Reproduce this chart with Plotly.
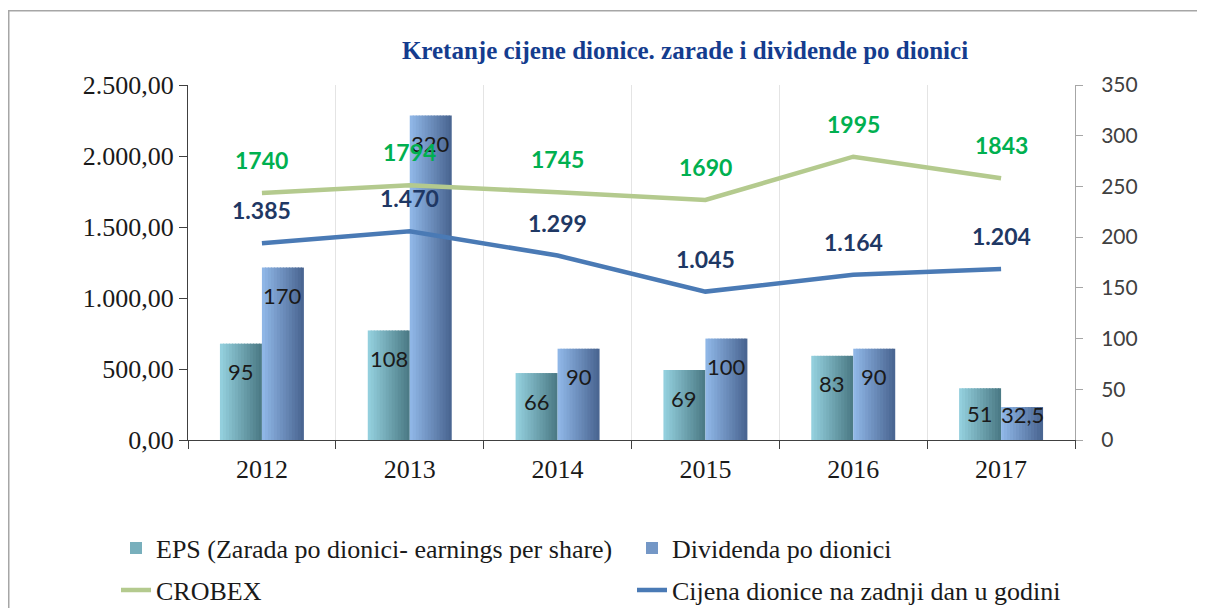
import plotly.graph_objects as go

# ---------------- data ----------------
years = ["2012", "2013", "2014", "2015", "2016", "2017"]
eps = [95, 108, 66, 69, 83, 51]
dividenda = [170, 320, 90, 100, 90, 32.5]
crobex = [1740, 1794, 1745, 1690, 1995, 1843]
cijena = [1385, 1470, 1299, 1045, 1164, 1204]

eps_labels = ["95", "108", "66", "69", "83", "51"]
div_labels = ["170", "320", "90", "100", "90", "32,5"]
crobex_labels = ["1740", "1794", "1745", "1690", "1995", "1843"]
cijena_labels = ["1.385", "1.470", "1.299", "1.045", "1.164", "1.204"]

left_ticks = [0, 500, 1000, 1500, 2000, 2500]
right_ticks = [0, 50, 100, 150, 200, 250, 300, 350]

title_text = "Kretanje cijene dionice. zarade i dividende po dionici"
name_eps = "EPS (Zarada po dionici- earnings per share)"
name_div = "Dividenda po dionici"
name_crobex = "CROBEX"
name_cijena = "Cijena dionice na zadnji dan u godini"

# ---------------- geometry / style ----------------
FIG_W, FIG_H = 1189, 600
ML, MR, MT, MB = 180, 122, 77, 168
PW = FIG_W - ML - MR
PH = FIG_H - MT - MB

BAR_W = 0.284      # width of one bar in category units
N_STRIPS = 14      # strips used to imitate the horizontal gradient


def hex2rgb(h):
    h = h.lstrip("#")
    return tuple(int(h[i:i + 2], 16) for i in (0, 2, 4))


def lerp(c1, c2, t):
    a, b = hex2rgb(c1), hex2rgb(c2)
    return "rgb(%d,%d,%d)" % tuple(round(a[i] + (b[i] - a[i]) * t) for i in range(3))


def px_x(px):
    """figure pixel x -> paper fraction"""
    return (px - ML) / PW


def px_y(py):
    """figure pixel y (from top) -> paper fraction"""
    return (FIG_H - MB - py) / PH


fig = go.Figure()


def add_gradient_bars(values, name, start, c_left, c_right):
    step = BAR_W / N_STRIPS
    for k in range(N_STRIPS):
        t = k / (N_STRIPS - 1)
        w = step * 1.35 if k < N_STRIPS - 1 else step
        fig.add_trace(go.Bar(
            x=years, y=values, name=name,
            offset=start + k * step, width=w,
            marker=dict(color=lerp(c_left, c_right, t), line=dict(width=0)),
            showlegend=(k == N_STRIPS // 2 - 2),
            legend="legend", yaxis="y", hoverinfo="skip" if k != N_STRIPS // 2 else None,
        ))


add_gradient_bars(eps, name_eps, -BAR_W, "#93CFDD", "#4C7B86")
add_gradient_bars(dividenda, name_div, 0.0, "#8FB6E6", "#4A6692")

fig.add_trace(go.Scatter(x=years, y=crobex, mode="lines", name=name_crobex,
                         line=dict(color="#B4CA8E", width=4.5),
                         yaxis="y2", legend="legend2"))
fig.add_trace(go.Scatter(x=years, y=cijena, mode="lines", name=name_cijena,
                         line=dict(color="#4A7AB5", width=4.5),
                         yaxis="y2", legend="legend2"))

annotations = []
px_per_unit_right = PH / 350.0
for i in range(len(years)):
    for val, lab, off in ((eps[i], eps_labels[i], -BAR_W / 2),
                          (dividenda[i], div_labels[i], BAR_W / 2)):
        shift = -min(28, val * px_per_unit_right - 26)
        annotations.append(dict(x=i + off, y=val, xref="x", yref="y", text=lab,
                                showarrow=False, yshift=shift,
                                font=dict(family="Lato", size=22, color="#1A1A1A")))
    annotations.append(dict(x=i, y=crobex[i], xref="x", yref="y2",
                            text="<b>%s</b>" % crobex_labels[i], showarrow=False, yshift=33,
                            font=dict(family="Lato", size=23, color="#00B050")))
    annotations.append(dict(x=i, y=cijena[i], xref="x", yref="y2",
                            text="<b>%s</b>" % cijena_labels[i], showarrow=False, yshift=33,
                            font=dict(family="Lato", size=23, color="#1F3864")))

# outer chart frame: a bordered empty box whose right/bottom edges fall outside the page
annotations.append(dict(xref="paper", yref="paper", x=px_x(0), y=px_y(2),
                        xanchor="left", yanchor="top", text=" ", showarrow=False,
                        width=1400, height=800, bordercolor="#A6A6A6", borderwidth=1.5,
                        borderpad=0, bgcolor="rgba(0,0,0,0)"))

legend_font = dict(family="Liberation Serif", size=26, color="#1A1A1A")
legend_x = px_x(108)

fig.update_layout(
    width=FIG_W, height=FIG_H,
    margin=dict(l=ML, r=MR, t=MT, b=MB, pad=0, autoexpand=False),
    paper_bgcolor="white", plot_bgcolor="white",
    separators=",.",
    barmode="overlay",
    title=dict(text="<b>%s</b>" % title_text, x=677 / FIG_W, xanchor="center",
               y=1 - 42 / FIG_H, yanchor="middle",
               font=dict(family="Liberation Serif", size=25, color="#143C8E")),
    xaxis=dict(type="category", showline=True, linecolor="#404040", linewidth=1,
               ticks="outside", tickson="boundaries", ticklen=8, tickcolor="#404040",
               showgrid=True, gridcolor="#E4E4E4", gridwidth=1,
               tickfont=dict(family="Liberation Serif", size=26, color="#1A1A1A"),
               ticklabelstandoff=6, range=[-0.5, 5.5]),
    yaxis=dict(side="right", range=[0, 350], tickvals=right_ticks,
               showline=True, linecolor="#A6A6A6", linewidth=1,
               ticks="outside", ticklen=7, tickcolor="#A6A6A6",
               tickfont=dict(family="Lato", size=21, color="#404040"),
               showgrid=False, zeroline=False, ticklabelstandoff=14),
    yaxis2=dict(overlaying="y", side="left", range=[0, 2500], tickvals=left_ticks,
                tickformat=",.2f", showline=True, linecolor="#404040", linewidth=1,
                ticks="outside", ticklen=8, tickcolor="#404040",
                tickfont=dict(family="Liberation Serif", size=26, color="#1A1A1A"),
                showgrid=False, zeroline=False),
    legend=dict(orientation="h", x=legend_x, y=px_y(540), xanchor="left",
                yanchor="middle", entrywidth=471, entrywidthmode="pixels",
                font=legend_font, bgcolor="rgba(0,0,0,0)", traceorder="normal"),
    legend2=dict(orientation="h", x=legend_x, y=px_y(582), xanchor="left",
                 yanchor="middle", entrywidth=471, entrywidthmode="pixels",
                 font=legend_font, bgcolor="rgba(0,0,0,0)", traceorder="normal"),
    annotations=annotations,
)

fig.write_html("out.html")
